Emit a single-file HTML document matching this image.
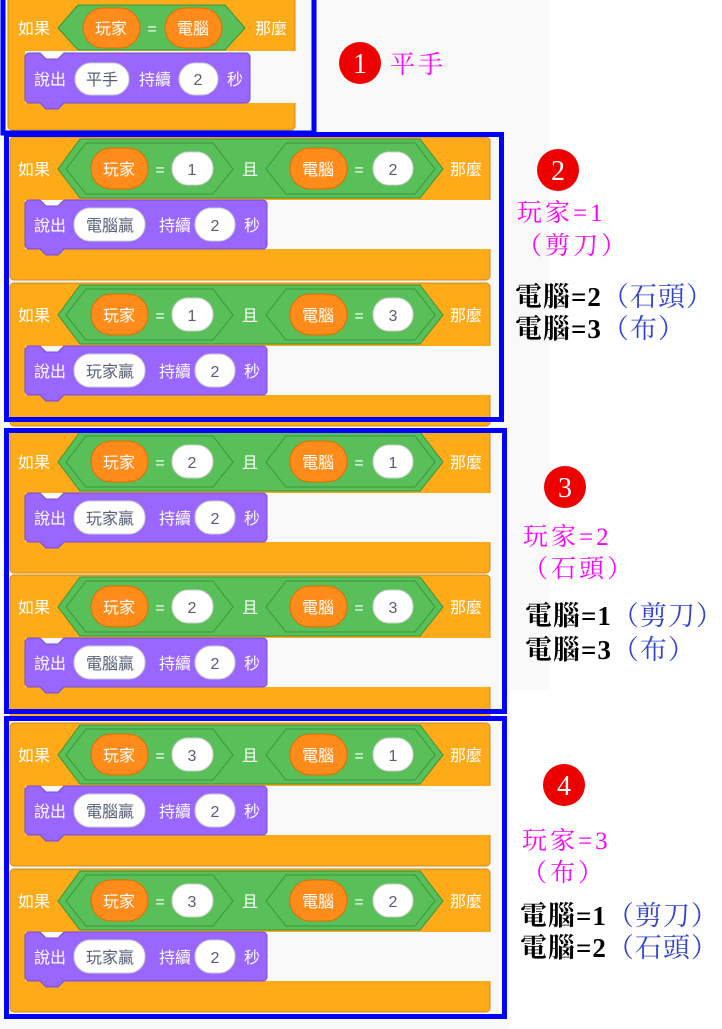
<!DOCTYPE html>
<html><head><meta charset="utf-8"><style>
html,body{margin:0;padding:0;background:#fff;}
svg{display:block;}
.w{fill:#fff;font-family:"Liberation Sans","Noto Sans CJK TC",sans-serif;font-size:16px;text-anchor:middle;}
.g{fill:#575E75;font-family:"Liberation Sans","Noto Sans CJK TC",sans-serif;font-size:16px;text-anchor:middle;}
.m{fill:#FF00FF;font-family:"Liberation Serif","Noto Serif CJK SC",serif;font-size:25px;font-weight:normal;letter-spacing:3px;}
.k{fill:#000;font-family:"Liberation Serif","Noto Serif CJK SC",serif;font-size:27px;font-weight:bold;letter-spacing:1px;}
.b{fill:#3344CC;font-weight:normal;}
.n{fill:#fff;font-family:"Liberation Serif",serif;font-size:28px;text-anchor:middle;}
</style></head><body>
<svg width="722" height="1029" viewBox="0 0 722 1029" xmlns="http://www.w3.org/2000/svg">
<defs>
<g id="cmp">
  <rect x="10" y="0" width="480" height="143" rx="4" fill="#FFAB19" stroke="#CF8B17"/>
  <rect x="25" y="63" width="466" height="49" fill="#F9F9F9"/>
  <polygon points="58,32 80,2 420,2 443,32 420,61 80,61" fill="#59C059" stroke="#389438"/>
  <polygon points="66,32 86,6 213,6 233,32 213,57 86,57" fill="#59C059" stroke="#389438"/>
  <polygon points="266,32 286,6 415,6 435,32 415,57 286,57" fill="#59C059" stroke="#389438"/>
  <rect x="91" y="11" width="57" height="41" rx="20" fill="#FF8C1A" stroke="#DB6E00"/>
  <text class="w" x="119" y="38">玩家</text>
  <text class="w" x="160" y="38">=</text>
  <rect x="172" y="15" width="41" height="33" rx="16" fill="#fff" stroke="#ccc"/>
  <text class="w" x="250" y="38">且</text>
  <rect x="290" y="11" width="57" height="41" rx="20" fill="#FF8C1A" stroke="#DB6E00"/>
  <text class="w" x="318" y="38">電腦</text>
  <text class="w" x="359" y="38">=</text>
  <rect x="373" y="15" width="40" height="33" rx="16" fill="#fff" stroke="#ccc"/>
  <text class="w" x="34" y="38">如果</text>
  <text class="w" x="466" y="38">那麼</text>
  <path d="M25,67 a4,4 0 0 1 4,-4 H40 l6,6 h12 l6,-6 H263 a4,4 0 0 1 4,4 V108 a4,4 0 0 1 -4,4 H64 l-6,6 h-12 l-6,-6 H29 a4,4 0 0 1 -4,-4 Z" fill="#9966FF" stroke="#774DCB"/>
  <text class="w" x="50" y="94">說出</text>
  <rect x="74" y="71" width="71" height="33" rx="16" fill="#fff" stroke="#ccc"/>
  <text class="w" x="175" y="94">持續</text>
  <rect x="195" y="71" width="40" height="33" rx="16" fill="#fff" stroke="#ccc"/>
  <text class="g" x="215" y="94">2</text>
  <text class="w" x="252" y="94">秒</text>
</g>
</defs>
<rect x="0" y="0" width="550" height="690" fill="#F9F9F9"/>
<rect x="0" y="690" width="510" height="339" fill="#F9F9F9"/>

<rect x="8" y="-5" width="287" height="135" rx="4" fill="#FFAB19" stroke="#CF8B17"/>
<rect x="25" y="51" width="271" height="52" fill="#F9F9F9"/>
<polygon points="58,28 78,5 225,5 245,28 225,50 78,50" fill="#59C059" stroke="#389438"/>
<rect x="83" y="8" width="57" height="40" rx="20" fill="#FF8C1A" stroke="#DB6E00"/>
<text class="w" x="111" y="34">玩家</text>
<text class="w" x="152" y="34">=</text>
<rect x="165" y="8" width="57" height="40" rx="20" fill="#FF8C1A" stroke="#DB6E00"/>
<text class="w" x="193" y="34">電腦</text>
<text class="w" x="34" y="34">如果</text>
<text class="w" x="271" y="34">那麼</text>
<path d="M25,57 a4,4 0 0 1 4,-4 H40 l6,6 h12 l6,-6 H246 a4,4 0 0 1 4,4 V99 a4,4 0 0 1 -4,4 H64 l-6,6 h-12 l-6,-6 H29 a4,4 0 0 1 -4,-4 Z" fill="#9966FF" stroke="#774DCB"/>
<text class="w" x="50" y="85">說出</text>
<rect x="75" y="63" width="54" height="32" rx="16" fill="#fff" stroke="#ccc"/>
<text class="g" x="102" y="85">平手</text>
<text class="w" x="155" y="85">持續</text>
<rect x="179" y="63" width="39" height="32" rx="16" fill="#fff" stroke="#ccc"/>
<text class="g" x="198" y="85">2</text>
<text class="w" x="235" y="85">秒</text>

<g transform="translate(0,137)"><use href="#cmp"/><text class="g" x="192" y="38">1</text><text class="g" x="393" y="38">2</text><text class="g" x="110" y="94">電腦贏</text></g>
<g transform="translate(0,283)"><use href="#cmp"/><text class="g" x="192" y="38">1</text><text class="g" x="393" y="38">3</text><text class="g" x="110" y="94">玩家贏</text></g>
<g transform="translate(0,430)"><use href="#cmp"/><text class="g" x="192" y="38">2</text><text class="g" x="393" y="38">1</text><text class="g" x="110" y="94">玩家贏</text></g>
<g transform="translate(0,575)"><use href="#cmp"/><text class="g" x="192" y="38">2</text><text class="g" x="393" y="38">3</text><text class="g" x="110" y="94">電腦贏</text></g>
<g transform="translate(0,723)"><use href="#cmp"/><text class="g" x="192" y="38">3</text><text class="g" x="393" y="38">1</text><text class="g" x="110" y="94">電腦贏</text></g>
<g transform="translate(0,869)"><use href="#cmp"/><text class="g" x="192" y="38">3</text><text class="g" x="393" y="38">2</text><text class="g" x="110" y="94">玩家贏</text></g>

<g fill="none" stroke="#0000FF" stroke-width="5">
<rect x="3" y="-5" width="311" height="138"/>
<rect x="6.5" y="134.5" width="495" height="285"/>
<rect x="6.5" y="430.5" width="498" height="281"/>
<rect x="6.5" y="718.5" width="498" height="298"/>
</g>

<circle cx="360" cy="63" r="21" fill="#EE0000"/><text class="n" x="360" y="73">1</text>
<text class="m" x="390" y="73">平手</text>

<circle cx="558" cy="170" r="21" fill="#EE0000"/><text class="n" x="558" y="180">2</text>
<text class="m" x="517" y="221">玩家=1</text>
<text class="m" x="517" y="254">（剪刀）</text>
<text class="k" x="515" y="306">電腦=2<tspan class="b">（石頭）</tspan></text>
<text class="k" x="515" y="338">電腦=3<tspan class="b">（布）</tspan></text>

<circle cx="565" cy="487" r="21" fill="#EE0000"/><text class="n" x="565" y="497">3</text>
<text class="m" x="523" y="545">玩家=2</text>
<text class="m" x="523" y="577">（石頭）</text>
<text class="k" x="525" y="625">電腦=1<tspan class="b">（剪刀）</tspan></text>
<text class="k" x="525" y="659">電腦=3<tspan class="b">（布）</tspan></text>

<circle cx="564" cy="785" r="21" fill="#EE0000"/><text class="n" x="564" y="795">4</text>
<text class="m" x="522" y="849">玩家=3</text>
<text class="m" x="522" y="881">（布）</text>
<text class="k" x="520" y="925">電腦=1<tspan class="b">（剪刀）</tspan></text>
<text class="k" x="520" y="957">電腦=2<tspan class="b">（石頭）</tspan></text>
</svg>
</body></html>
